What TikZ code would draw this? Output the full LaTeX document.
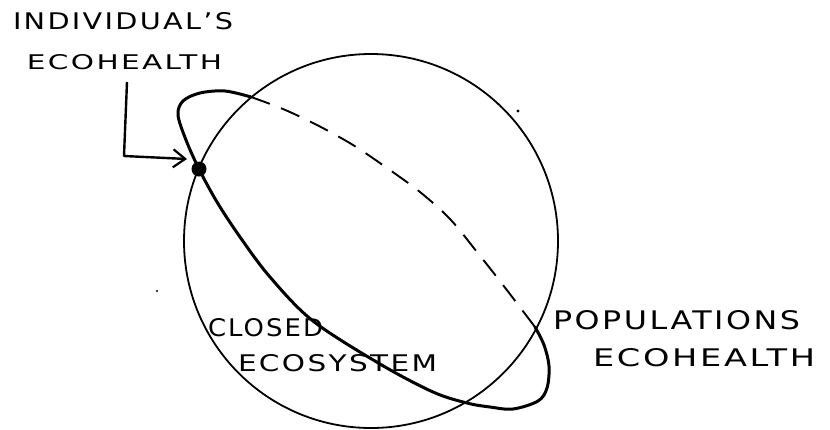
\documentclass[tikz,border=0pt]{standalone}
\usepackage{fontspec}
\setmainfont{DejaVu Sans}
\usetikzlibrary{arrows.meta}
\newcommand{\hand}[3]{\resizebox{#1pt}{#2pt}{\addfontfeature{LetterSpace=8}#3}}
\tikzset{
  lbl/.style={inner sep=0pt, outer sep=0pt, anchor=south west},
  thinline/.style={line width=1.8pt},
  thickline/.style={line width=3pt, line join=round, line cap=round},
  backline/.style={line width=1.9pt, dash pattern=on 20pt off 12pt},
  pointer/.style={line width=2.4pt, line join=round, -{Straight Barb[length=12pt,width=18pt,line width=2.2pt]}},
}
\begin{document}
\begin{tikzpicture}[x=1pt,y=-1pt]
\useasboundingbox (0,0) rectangle (830,429);
% globe (closed ecosystem)
\node[circle, draw, thinline, minimum size=374pt, inner sep=0pt] (globe) at (371,241) {};
% crossings of the orbit with the globe
\coordinate (xtop) at (251,97);
\coordinate (xright) at (535,327);
% orbit: front and outer part solid
\draw[thickline] plot[smooth, tension=0.55] coordinates {
  (535,327) (544,345) (549,366) (547,388) (538,401) (513,409) (490,407)
  (467,403) (433,392) (380,364) (313,321) (270,277) (240,237) (217,202)
  (199,169) (186,140) (178,115) (183,101) (200,93) (225,91) (251,97)};
% orbit: back part dashed
\draw[backline] plot[smooth, tension=0.55] coordinates {
  (251,97) (283,109) (317,125) (353,145) (387,168) (420,192) (450,219)
  (477,252) (503,285) (535,327)};
% individual point
\node[circle, fill, minimum size=15pt, inner sep=0pt] (dot) at (199,169) {};
% labels
\node[lbl] (ind1) at (13,30) {\hand{220}{17}{INDIVIDUAL'S}};
\node[lbl] (ind2) at (27,70) {\hand{195}{15}{ECOHEALTH}};
\node[lbl] (cl1) at (208,337) {\hand{115}{18}{CLOSED}};
\node[lbl] (cl2) at (238,372) {\hand{199}{17}{ECOSYSTEM}};
\node[lbl] (pop1) at (553,330) {\hand{247}{19}{POPULATIONS}};
\node[lbl] (pop2) at (593,367) {\hand{222}{18}{ECOHEALTH}};
% pointer
\coordinate (arrstart) at (127,82);
\coordinate (arrbend) at (124,156);
\coordinate (arrtip) at (187,159);
\draw[pointer] (arrstart) -- (arrbend) -- (arrtip);
% specks
\fill (518,111) circle (1.6pt);
\fill (157,291) circle (1.2pt);
\end{tikzpicture}
\end{document}
